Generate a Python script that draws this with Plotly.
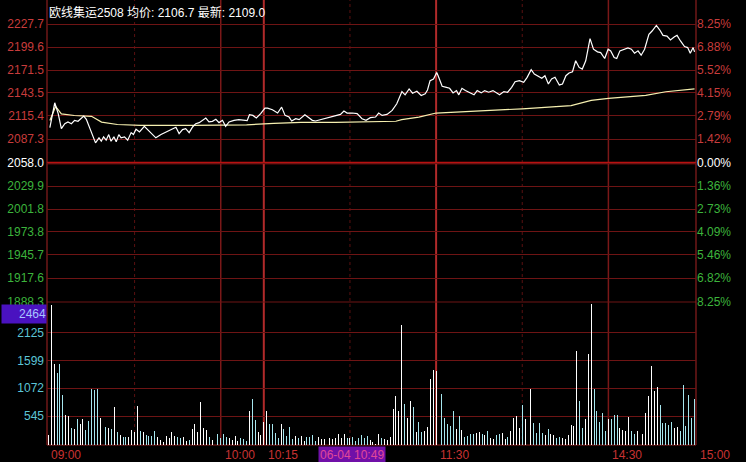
import numpy as np
import plotly.graph_objects as go

# ---------------- data ----------------
title_text = "欧线集运2508 均价: 2106.7 最新: 2109.0"
prev_settle = 2058.0

price_levels = [2227.7, 2199.6, 2171.5, 2143.5, 2115.4, 2087.3, 2058.0,
                2029.9, 2001.8, 1973.8, 1945.7, 1917.6, 1888.3]
pct_labels = ["8.25%", "6.88%", "5.52%", "4.15%", "2.79%", "1.42%", "0.00%",
              "1.36%", "2.73%", "4.09%", "5.46%", "6.82%", "8.25%"]
vol_ticks = [545, 1072, 1599, 2125]
vol_marker_value = 2464

time_labels = ["09:00", "10:00", "10:15", "11:30", "14:30", "15:00"]
time_label_pos = [-0.5, 60, 75, 135, 195, 225.5]
cursor_label = "06-04 10:49"
cursor_pos = 94

grid_strong = [75, 135]
grid_solid = [60, 195]
grid_dotted = [30, 105, 165]

# minute index from 09:00 (trading minutes) and price
price_t = [0.5, 2.2, 3.4, 4.5, 5.7, 6.8, 8.0, 9.1, 10.3, 11.4, 12.3, 13.2, 14.3, 15.5,
           16.4, 17.6, 18.4, 19.2, 20.1, 21.0, 21.8, 22.8, 23.6, 24.5, 25.3, 26.5,
           27.6, 28.8, 29.6, 30.5, 31.7, 33.4, 34.6, 35.7, 37.4, 39.2, 40.9, 42.7,
           44.4, 45.5, 46.7, 47.8, 49.0, 50.2, 51.3, 52.5, 53.6, 54.8, 55.9, 57.1,
           58.3, 59.4, 60.6, 61.7, 62.9, 64.6, 66.3, 68.1, 69.2, 70.0, 71.2, 72.4,
           73.9, 75.4,
           76.3, 78.0, 79.8, 81.2, 82.4, 83.8, 84.7, 86.1, 87.3, 89.3, 90.7, 91.9,
           93.0, 94.8, 96.5, 98.2, 100.0, 101.7, 102.9, 104.0, 105.8, 107.5, 109.2,
           110.6, 112.1, 113.9, 115.0, 116.2, 117.9, 119.7, 121.3, 123.1, 124.2,
           125.6, 126.8, 128.3, 129.8, 131.2, 132.0, 132.9, 134.1, 135.2,
           135.7, 137.1, 138.6, 139.7, 140.9, 142.1, 142.9, 144.0, 145.2, 146.7,
           148.2, 149.3, 150.7, 151.9, 153.3, 154.8, 155.9, 157.1, 158.6, 159.9,
           161.3, 162.5, 164.0, 165.5, 166.7, 168.1, 169.2, 170.6, 171.8, 172.9,
           174.1, 175.2, 176.4, 177.9, 179.0, 180.2, 181.3, 182.5, 183.6, 184.8,
           185.9, 187.1, 187.9, 188.6, 189.8, 191.2, 192.3, 193.7, 194.9, 195.8,
           197.0, 197.9, 199.0, 200.4, 201.8, 203.0, 204.1, 205.3, 206.4, 207.6,
           209.1, 210.2, 211.7, 212.9, 214.0, 215.4, 216.6, 218.0, 218.9, 220.1,
           221.5, 222.6, 223.5, 224.5, 225.0]
price_v = [2101.2, 2131.5, 2118.2, 2100.0, 2106.0, 2108.1, 2106.0, 2110.1, 2108.9, 2112.9,
           2115.3, 2111.3, 2102.0, 2091.9, 2082.6, 2088.7, 2084.6, 2089.9, 2085.9, 2092.7,
           2084.6, 2089.9, 2083.8, 2092.7, 2088.7, 2089.9, 2085.9, 2095.1, 2092.7, 2099.2,
           2095.9, 2102.8, 2098.8, 2093.9, 2088.7, 2092.7, 2095.9, 2098.8, 2101.6, 2093.9,
           2098.8, 2100.0, 2095.1, 2102.0, 2106.0, 2107.3, 2110.1, 2112.9, 2108.1, 2108.9,
           2111.3, 2107.3, 2110.1, 2102.8, 2108.1, 2110.1, 2110.9, 2110.5, 2109.7, 2116.9,
           2116.1, 2113.0, 2118.2, 2125.0,
           2125.0, 2123.0, 2119.0, 2126.2, 2116.1, 2114.1, 2109.3, 2112.1, 2110.9, 2116.9,
           2113.3, 2110.1, 2109.3, 2110.9, 2112.1, 2114.1, 2114.9, 2117.3, 2121.4, 2119.0,
           2119.0, 2118.2, 2112.1, 2110.1, 2113.3, 2114.1, 2119.0, 2116.1, 2117.3, 2122.2,
           2130.3, 2145.2, 2141.2, 2148.4, 2143.2, 2145.6, 2140.4, 2142.4, 2147.2, 2158.5,
           2160.6, 2168.6,
           2164.6, 2151.7, 2150.4, 2149.2, 2143.6, 2146.4, 2141.2, 2149.2, 2146.4, 2143.6,
           2141.2, 2146.4, 2143.6, 2146.4, 2144.4, 2146.4, 2144.4, 2141.2, 2145.2, 2144.4,
           2150.4, 2157.3, 2158.5, 2156.5, 2162.6, 2171.9, 2166.6, 2163.8, 2161.4, 2164.6,
           2154.5, 2160.6, 2162.6, 2153.3, 2154.5, 2164.6, 2167.8, 2169.4, 2182.8, 2174.7,
           2172.7, 2182.8, 2198.9, 2209.8, 2196.9, 2193.7, 2192.8, 2185.6, 2196.9, 2194.9,
           2186.8, 2185.6, 2194.9, 2196.9, 2198.5, 2196.9, 2192.0, 2194.9, 2189.6, 2196.9,
           2215.1, 2219.1, 2226.0, 2220.3, 2213.8, 2213.0, 2208.2, 2212.2, 2213.8, 2207.0,
           2200.1, 2198.9, 2192.0, 2198.9, 2193.7]

avg_t = [0.5, 2.5, 4.5, 9, 15, 18.5, 24, 32, 50, 69, 78.5, 88, 100, 115, 121, 123,
         129, 135, 150, 155, 165, 182, 189, 195, 208, 215, 225]
avg_v = [2110.0, 2127.0, 2118.0, 2116.0, 2115.0, 2108.0, 2105.0, 2104.0, 2104.0, 2104.6,
         2106.4, 2107.5, 2107.5, 2108.0, 2109.0, 2111.0, 2114.0, 2119.0, 2121.5, 2122.2,
         2124.2, 2128.0, 2134.5, 2137.0, 2140.5, 2145.0, 2148.5]

volume = [188, 2640, 1529, 1360, 1529, 953, 558, 546, 326, 307,
          495, 401, 495, 282, 451, 1065, 1034, 1065, 501, 376,
          338, 313, 294, 714, 244, 188, 157, 144, 144, 282,
          244, 733, 263, 244, 188, 163, 175, 263, 157, 94,
          63, 175, 132, 244, 175, 157, 132, 157, 69, 94,
          294, 388, 251, 808, 326, 282, 157, 94, 157, 213,
          132, 207, 157, 132, 94, 175, 82, 132, 113, 69,
          639, 877, 464, 244, 188, 432, 639, 401, 401, 232,
          132, 401, 294, 175, 338, 113, 175, 132, 163, 82,
          157, 144, 188, 82, 144, 113, 107, 107, 126, 107,
          138, 213, 125, 200, 138, 138, 150, 75, 125, 188,
          125, 169, 88, 63, 25, 213, 126, 107, 88,
          150, 671, 921, 639, 2269, 777, 514, 827, 714, 244,
          432, 244, 263, 338, 1253, 1423, 1404, 1372, 971, 501,
          388, 357, 639, 294, 545, 276, 150, 169, 213, 200,
          232, 244, 213, 181, 263, 138, 119, 188, 213, 232,
          106, 150, 263, 514, 545, 326, 752, 482, 326, 1066,
          419, 232, 419, 232, 188, 294, 213, 188, 138, 156,
          138, 106, 188, 376, 357, 1767, 827, 326, 482, 1717,
          2657, 1066, 639, 432, 608, 263, 495, 495, 558, 558,
          326, 276, 263, 533, 263, 200, 263, 338, 200, 596,
          921, 1485, 1028, 1090, 746, 413, 413, 376, 432, 326,
          338, 263, 1128, 357, 940, 514, 871]

# ---------------- styling ----------------
BG = "#000000"
GRID = "#6e1414"
RED_TXT = "#c83c3c"
GREEN_TXT = "#3cb43c"
VOL_TXT = "#5cc4d6"
FONT = "Liberation Sans, Arial, Noto Sans CJK SC, sans-serif"

W, H = 746, 462
ML, MR, MT, MB = 47, 50, 0, 17
plot_h = H - MT - MB
split = (445 - 302) / plot_h  # boundary between price and volume panels

minutes = np.arange(len(volume))
p_now = np.interp(minutes, price_t, price_v)
p_prev = np.interp(minutes - 1, price_t, price_v)
bar_colors = ["#ffffff" if a >= b else "#a6e6ee" for a, b in zip(p_now, p_prev)]


def colored(txt, val):
    if val > prev_settle:
        c = RED_TXT
    elif val < prev_settle:
        c = GREEN_TXT
    else:
        c = "#ffffff"
    return f"<span style='color:{c}'>{txt}</span>"


left_text = [colored(f"{v:.1f}", v) for v in price_levels]
right_text = [colored(t, v) for t, v in zip(pct_labels, price_levels)]

fig = go.Figure()
fig.add_trace(go.Bar(x=minutes, y=volume, width=0.34, marker=dict(color=bar_colors, line=dict(width=0)),
                     xaxis="x", yaxis="y2", showlegend=False, hoverinfo="skip"))
fig.add_trace(go.Scatter(x=avg_t, y=avg_v, mode="lines", line=dict(color="#f6f0b0", width=1.2),
                         xaxis="x", yaxis="y", showlegend=False, hoverinfo="skip"))
fig.add_trace(go.Scatter(x=price_t, y=price_v, mode="lines", line=dict(color="#ffffff", width=1.2),
                         xaxis="x", yaxis="y3", showlegend=False, hoverinfo="skip"))

price_range = [1888.3, 2257.0]

shapes = []
for m in grid_dotted:
    shapes.append(dict(type="line", xref="x", yref="paper", x0=m, x1=m, y0=0, y1=1,
                       line=dict(color="#5a1010", width=1, dash="dot"), layer="below"))
for m in grid_solid:
    shapes.append(dict(type="line", xref="x", yref="paper", x0=m, x1=m, y0=0, y1=1,
                       line=dict(color="#7a1818", width=1.5), layer="below"))
for m in grid_strong:
    shapes.append(dict(type="line", xref="x", yref="paper", x0=m, x1=m, y0=0, y1=1,
                       line=dict(color="#b02a2a", width=2), layer="below"))
# previous settlement line
shapes.append(dict(type="line", xref="paper", yref="y", x0=0, x1=1, y0=prev_settle, y1=prev_settle,
                   line=dict(color="#b81010", width=2.5), layer="below"))
# panel separator
shapes.append(dict(type="line", xref="paper", yref="paper", x0=0, x1=1, y0=split, y1=split,
                   line=dict(color=GRID, width=1), layer="below"))
# borders
for xx in (0, 1):
    shapes.append(dict(type="line", xref="paper", yref="paper", x0=xx, x1=xx, y0=0, y1=1,
                       line=dict(color="#8c1e1e", width=1.2), layer="below"))
shapes.append(dict(type="line", xref="paper", yref="paper", x0=0, x1=1, y0=0, y1=0,
                   line=dict(color="#8c1e1e", width=1.2), layer="below"))

annotations = [
    dict(text=title_text, xref="paper", yref="paper", x=0, y=1, xanchor="left", yanchor="top",
         yshift=-3, showarrow=False, font=dict(family=FONT, size=12, color="#ffffff")),
    dict(text=str(vol_marker_value), xref="paper", yref="y2", x=0, y=vol_marker_value,
         xanchor="right", yanchor="middle", yshift=1, showarrow=False, bgcolor="#4a12c0",
         width=44, height=18, align="right", borderpad=0,
         font=dict(family=FONT, size=12, color="#a8c4ff")),
]
for lab, pos in zip(time_labels, time_label_pos):
    annotations.append(dict(text=lab, xref="x", yref="paper", x=pos, y=0, xanchor="left",
                            yanchor="top", xshift=2, yshift=-1, showarrow=False,
                            font=dict(family=FONT, size=12, color="#c83232")))
annotations.append(dict(text=cursor_label, xref="x", yref="paper", x=cursor_pos, y=0,
                        xanchor="left", yanchor="top", yshift=-1, showarrow=False,
                        bgcolor="#7010a8", borderpad=1,
                        font=dict(family=FONT, size=12, color="#e04898")))

fig.update_layout(
    width=W, height=H,
    margin=dict(l=ML, r=MR, t=MT, b=MB, autoexpand=False),
    paper_bgcolor=BG, plot_bgcolor=BG,
    bargap=0,
    xaxis=dict(range=[-0.5, 225.5], anchor="y2", showgrid=False, zeroline=False,
               showticklabels=False, showline=False, fixedrange=True, automargin=False),
    yaxis=dict(domain=[split, 1], range=price_range, tickmode="array", tickvals=price_levels,
               ticktext=left_text, showgrid=True, gridcolor=GRID, gridwidth=1, zeroline=False,
               ticks="", tickfont=dict(family=FONT, size=12), anchor="x", side="left",
               automargin=False, ticklabelstandoff=2),
    yaxis3=dict(domain=[split, 1], range=price_range, overlaying="y", side="right",
                tickmode="array", tickvals=price_levels, ticktext=right_text,
                showgrid=False, zeroline=False, ticks="", automargin=False,
                tickfont=dict(family=FONT, size=12), anchor="x"),
    yaxis2=dict(domain=[0, split], range=[0, 2700], tickmode="array", tickvals=vol_ticks,
                ticktext=[str(v) for v in vol_ticks], showgrid=True, gridcolor=GRID,
                zeroline=False, ticks="", automargin=False, ticklabelstandoff=2,
                tickfont=dict(family=FONT, size=12, color=VOL_TXT), anchor="x"),
    shapes=shapes,
    annotations=annotations,
)

fig.write_html("out.html", config={"displayModeBar": False, "staticPlot": True},
               post_script="document.body.style.margin='0';document.body.style.overflow='hidden';")
